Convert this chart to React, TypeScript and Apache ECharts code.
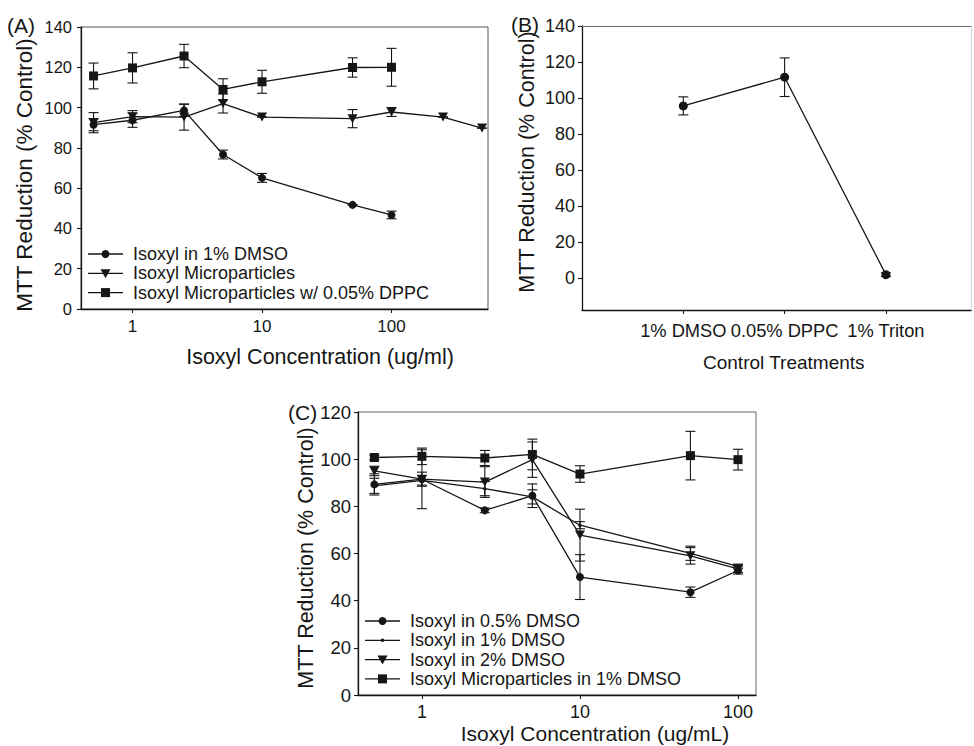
import React, { useEffect, useRef } from 'react';
import * as echarts from 'echarts';

const FONT = '"Liberation Sans", Arial, Helvetica, sans-serif';
const INK = '#161616';

// ---------- Panel A ----------
const concA = [0.5, 1, 2.5, 5, 10, 50, 100];
const concAmp = [0.5, 1, 2.5, 5, 10, 50, 100, 250, 500];
const aDmso = [91.5, 93.7, 98.6, 76.7, 65.1, 51.7, 46.7];
const aDmsoErr = [3, 3.5, 3, 2.2, 2.2, 0, 1.9];
const aMp = [92.5, 95.5, 95.3, 102, 95.3, 94.5, 97.8, 95.3, 89.8];
const aMpErr = [5, 3, 6.5, 4.7, 0, 4.5, 2.2, 0, 0];
const aDppc = [115.7, 119.7, 125.6, 109, 112.8, 119.9, 120];
const aDppcErr = [6.4, 7.5, 5.8, 5.3, 5.7, 4.8, 9.4];
const xTicksLog = [1, 10, 100];

// ---------- Panel B ----------
const catsB = ['1% DMSO', '0.05% DPPC', '1% Triton'];
const valB = [95.7, 111.6, 2.1];
const errB = [5, 10.7, 1];
const yTicksB = [0, 20, 40, 60, 80, 100, 120, 140];

// ---------- Panel C ----------
const concC = [0.5, 1, 2.5, 5, 10, 50, 100];
const cDmso05 = [89.3, 91.5, 78.3, 84.5, 50, 43.6, 52.8];
const cDmso05Err = [4.5, 12.5, 1, 5, 9.5, 2.2, 1.5];
const cDmso1 = [88.7, 91, 87.5, 84, 72, 60.1, 54.5];
const cDmso1Err = [3.2, 2, 3, 3, 1.5, 3, 1];
const cDmso2 = [95, 91.5, 90.3, 99.8, 67.8, 59, 53.5];
const cDmso2Err = [2, 3, 6.5, 7.5, 11, 3.5, 1.5];
const cMp = [100.7, 101.2, 100.5, 102, 93.7, 101.5, 99.8];
const cMpErr = [1, 3.5, 3.2, 6.5, 3.5, 10.3, 4.4];

const legendA = ['Isoxyl in 1% DMSO', 'Isoxyl Microparticles', 'Isoxyl Microparticles w/ 0.05% DPPC'];
const legendC = ['Isoxyl in 0.5% DMSO', 'Isoxyl in 1% DMSO', 'Isoxyl in 2% DMSO', 'Isoxyl Microparticles in 1% DMSO'];

const errBar = (capHalf: number) => (params: any, api: any) => {
  const x = api.value(0);
  const y = api.value(1);
  const e = api.value(2);
  const top = api.coord([x, y + e]);
  const bot = api.coord([x, y - e]);
  const style = { stroke: INK, lineWidth: 1.1, fill: 'none' };
  return {
    type: 'group',
    children: [
      { type: 'line', shape: { x1: top[0], y1: top[1], x2: bot[0], y2: bot[1] }, style },
      { type: 'line', shape: { x1: top[0] - capHalf, y1: top[1], x2: top[0] + capHalf, y2: top[1] }, style },
      { type: 'line', shape: { x1: bot[0] - capHalf, y1: bot[1], x2: bot[0] + capHalf, y2: bot[1] }, style },
    ],
  };
};

const lineSeries = (name: string, xi: number, xs: number[], ys: number[], symbol: string, size: any, rotate = 0) => ({
  type: 'line',
  name,
  xAxisIndex: xi,
  yAxisIndex: xi,
  data: xs.map((x, i) => [x, ys[i]]),
  symbol,
  symbolSize: size,
  symbolRotate: rotate,
  showSymbol: true,
  lineStyle: { color: INK, width: 1.3 },
  itemStyle: { color: INK, borderWidth: 0 },
  z: 3,
  silent: true,
});

const errSeries = (xi: number, xs: number[], ys: number[], es: number[], cap = 5) => ({
  type: 'custom',
  xAxisIndex: xi,
  yAxisIndex: xi,
  data: xs.map((x, i) => [x, ys[i], es[i]]),
  encode: { x: 0, y: 1 },
  renderItem: errBar(cap),
  z: 2,
  silent: true,
});

const axisLine = { show: true, onZero: false, lineStyle: { color: INK, width: 1.3 } };
const tick = { show: true, inside: false, length: 4, lineStyle: { color: INK, width: 1.1 } };
const lbl = (fontSize: number, margin: number) => ({ fontSize, margin, color: INK, fontFamily: FONT });

function legendGraphic(x0: number, rows: number[], labels: string[], symbols: string[], fontSize: number) {
  const children: any[] = [];
  labels.forEach((label, i) => {
    const y = rows[i];
    const cx = x0 + 17.5;
    children.push({ type: 'line', shape: { x1: x0, y1: y, x2: x0 + 35, y2: y }, style: { stroke: INK, lineWidth: 1.3 } });
    const s = symbols[i];
    if (s === 'circle') children.push({ type: 'circle', shape: { cx, cy: y, r: 4 }, style: { fill: INK } });
    if (s === 'dot') children.push({ type: 'circle', shape: { cx, cy: y, r: 1.8 }, style: { fill: INK } });
    if (s === 'tri')
      children.push({ type: 'polygon', shape: { points: [[cx - 5, y - 4], [cx + 5, y - 4], [cx, y + 5]] }, style: { fill: INK } });
    if (s === 'rect') children.push({ type: 'rect', shape: { x: cx - 4.5, y: y - 4.5, width: 9, height: 9 }, style: { fill: INK } });
    children.push({
      type: 'text',
      style: { text: label, x: x0 + 45, y, font: `${fontSize}px ${FONT}`, fill: INK, verticalAlign: 'middle', align: 'left' },
    });
  });
  return { type: 'group', children };
}

const txt = (text: string, x: number, y: number, size: number, rot = 0, align = 'center') => ({
  type: 'text',
  x,
  y,
  rotation: rot,
  style: { text, x: 0, y: 0, font: `${size}px ${FONT}`, fill: INK, align, verticalAlign: 'middle' },
});

export default function App() {
  const ref = useRef<HTMLDivElement>(null);
  useEffect(() => {
    if (!ref.current) return;
    const chart = echarts.init(ref.current, null, { renderer: 'svg' });
    const option: any = {
      animation: false,
      backgroundColor: '#ffffff',
      textStyle: { fontFamily: FONT },
      grid: [
        { left: 81, top: 27, width: 407, height: 282, show: true, borderColor: '#555', borderWidth: 1, outerBoundsMode: 'none' },
        { left: 582, top: 26, width: 389, height: 284, show: false, outerBoundsMode: 'none' },
        { left: 358, top: 412, width: 398, height: 283, show: true, borderColor: '#666', borderWidth: 1, outerBoundsMode: 'none' },
      ],
      xAxis: [
        {
          type: 'log', gridIndex: 0, min: 0.4, max: 556, logBase: 10,
          axisLine, axisTick: { ...tick, customValues: xTicksLog },
          axisLabel: { ...lbl(17, 9), customValues: xTicksLog },
          splitLine: { show: false }, minorTick: { show: false },
        },
        {
          type: 'value', gridIndex: 1, min: 0, max: 3.84,
          axisLine, axisTick: { ...tick, customValues: [1, 2, 3] },
          axisLabel: { ...lbl(18.3, 11), customValues: [1, 2, 3], formatter: (v: number) => catsB[Math.round(v) - 1] ?? '' },
          splitLine: { show: false },
        },
        {
          type: 'log', gridIndex: 2, min: 0.394, max: 130, logBase: 10,
          axisLine, axisTick: { ...tick, customValues: xTicksLog },
          axisLabel: { ...lbl(18, 8), customValues: xTicksLog },
          splitLine: { show: false }, minorTick: { show: false },
        },
        {
          type: 'value', gridIndex: 1, min: 0, max: 3.84, position: 'top',
          axisLine: { show: true, onZero: false, lineStyle: { color: '#6a6a6a', width: 1.2 } },
          axisTick: { show: false }, axisLabel: { show: false }, splitLine: { show: false },
        },
      ],
      yAxis: [
        {
          type: 'value', gridIndex: 0, min: 0, max: 140, interval: 20,
          axisLine, axisTick: tick, axisLabel: lbl(16.5, 9), splitLine: { show: false },
        },
        {
          type: 'value', gridIndex: 1, min: -17.5, max: 140, position: 'left',
          axisLine, axisTick: { ...tick, customValues: yTicksB },
          axisLabel: { ...lbl(18, 7), customValues: yTicksB }, splitLine: { show: false },
        },
        {
          type: 'value', gridIndex: 2, min: 0, max: 120, interval: 20,
          axisLine, axisTick: tick, axisLabel: lbl(18.5, 7), splitLine: { show: false },
        },
        {
          type: 'value', gridIndex: 1, min: -17.5, max: 140, position: 'right',
          axisLine: { show: true, onZero: false, lineStyle: { color: '#d4d4d4', width: 1 } },
          axisTick: { show: false }, axisLabel: { show: false }, splitLine: { show: false },
        },
      ],
      series: [
        errSeries(0, concA, aDmso, aDmsoErr),
        errSeries(0, concAmp, aMp, aMpErr),
        errSeries(0, concA, aDppc, aDppcErr),
        lineSeries(legendA[0], 0, concA, aDmso, 'circle', 8),
        lineSeries(legendA[1], 0, concAmp, aMp, 'triangle', [10, 9], 180),
        lineSeries(legendA[2], 0, concA, aDppc, 'rect', 9),

        errSeries(1, [1, 2, 3], valB, errB),
        lineSeries('Control', 1, [1, 2, 3], valB, 'circle', 9),

        errSeries(2, concC, cDmso05, cDmso05Err),
        errSeries(2, concC, cDmso1, cDmso1Err),
        errSeries(2, concC, cDmso2, cDmso2Err),
        errSeries(2, concC, cMp, cMpErr),
        lineSeries(legendC[0], 2, concC, cDmso05, 'circle', 8),
        lineSeries(legendC[1] + ' ', 2, concC, cDmso1, 'circle', 3.5),
        lineSeries(legendC[2], 2, concC, cDmso2, 'triangle', [10, 9], 180),
        lineSeries(legendC[3], 2, concC, cMp, 'rect', 9),
      ],
      graphic: [
        txt('(A)', 7, 25, 21, 0, 'left'),
        txt('(B)', 511, 24, 21, 0, 'left'),
        txt('(C)', 288, 412, 21, 0, 'left'),
        txt('MTT Reduction (% Control)', 24, 175, 22.5, Math.PI / 2),
        txt('Isoxyl Concentration (ug/ml)', 320, 357, 21.5),
        txt('MTT Reduction (% Control)', 527, 162, 21.5, Math.PI / 2),
        txt('Control Treatments', 703, 362, 19, 0, 'left'),
        txt('MTT Reduction (% Control)', 306, 558, 21.5, Math.PI / 2),
        txt('Isoxyl Concentration (ug/mL)', 595, 733, 21),
        legendGraphic(88, [254, 273.3, 292.6], legendA, ['circle', 'tri', 'rect'], 18),
        legendGraphic(365, [621, 640.3, 659.6, 678.9], legendC, ['circle', 'dot', 'tri', 'rect'], 18),
      ],
    };
    chart.setOption(option);
    return () => chart.dispose();
  }, []);
  return <div ref={ref} style={{ position: 'absolute', left: 0, top: 0, width: 974, height: 746 }} />;
}
